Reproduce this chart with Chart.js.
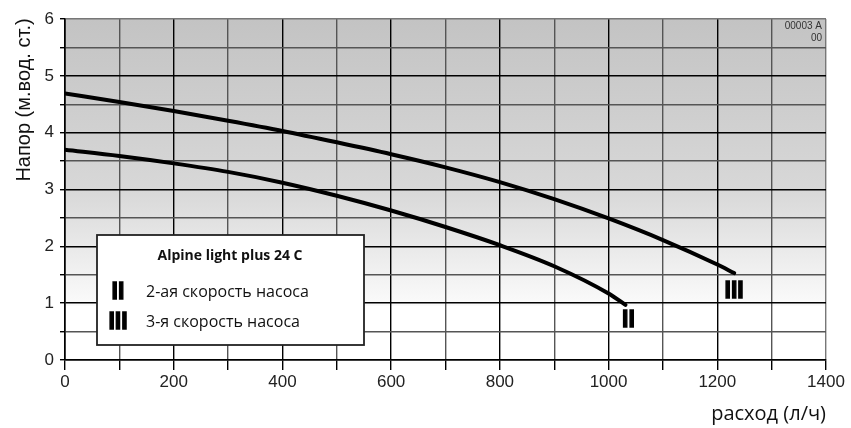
<!DOCTYPE html>
<html>
<head>
<meta charset="utf-8">
<script src="https://cdn.jsdelivr.net/npm/chart.js@4/dist/chart.umd.min.js"></script>
<style>
  body { margin: 0; background: #fff; }
  #wrap { width: 851px; height: 428px; }
</style>
</head>
<body>
<div id="wrap"><canvas id="pumpChart" width="851" height="428"></canvas></div>
<script>
// Pump head curves - Alpine light plus 24 C
const flowSpeed2 = [0, 100, 200, 300, 400, 500, 600, 700, 800, 900, 1000, 1031];
const headSpeed2 = [3.70, 3.59, 3.46, 3.31, 3.12, 2.89, 2.63, 2.34, 2.02, 1.65, 1.17, 0.97];

const flowSpeed3 = [0, 100, 200, 300, 400, 500, 600, 700, 800, 900, 1000, 1100, 1200, 1231];
const headSpeed3 = [4.69, 4.54, 4.38, 4.21, 4.03, 3.83, 3.62, 3.39, 3.13, 2.83, 2.49, 2.11, 1.68, 1.53];

const speedMarks = ["II", "III"];
const legendTitle = "Alpine light plus 24 C";
const legendLabels = ["2-ая скорость насоса", "3-я скорость насоса"];
const yTitle = "Напор (м.вод. ст.)";
const xTitle = "расход (л/ч)";
const docCode = ["00003 A", "00"];

const chartElement = document.getElementById("pumpChart");

function toPoints(xs, ys) {
  return xs.map((x, i) => ({ x: x, y: ys[i] }));
}

function gridColor(value, major, last) {
  if (value === last) return "#777";
  return value % major === 0 ? "#000" : "#555";
}

// gray to white background inside the plot
const backgroundPlugin = {
  id: "background",
  beforeDraw(chart) {
    const { ctx, chartArea } = chart;
    const yScale = chart.scales.y;
    const fadeEnd = yScale.getPixelForValue(0.95);
    const grad = ctx.createLinearGradient(0, chartArea.top, 0, fadeEnd);
    grad.addColorStop(0, "#c3c3c3");
    grad.addColorStop(0.6, "#d8d8d8");
    grad.addColorStop(1, "#fbfbfb");
    ctx.save();
    ctx.fillStyle = "#fff";
    ctx.fillRect(chartArea.left, chartArea.top, chartArea.width, chartArea.height);
    ctx.fillStyle = grad;
    ctx.fillRect(chartArea.left, chartArea.top, chartArea.width, fadeEnd - chartArea.top);
    ctx.restore();
  },
};

function drawMark(ctx, text, cx, top) {
  ctx.save();
  ctx.font = "bold 23px 'Liberation Sans'";
  ctx.textAlign = "center";
  ctx.textBaseline = "top";
  ctx.fillStyle = "#000";
  ctx.strokeStyle = "#000";
  ctx.lineWidth = 1.3;
  ctx.fillText(text, cx, top);
  ctx.strokeText(text, cx, top);
  ctx.restore();
}

const annotationPlugin = {
  id: "annotations",
  afterDraw(chart) {
    const { ctx } = chart;
    const x = chart.scales.x;
    const y = chart.scales.y;

    // marks at the ends of the curves
    const end2 = flowSpeed2.length - 1;
    const end3 = flowSpeed3.length - 1;
    drawMark(ctx, speedMarks[0], x.getPixelForValue(flowSpeed2[end2]) + 3, y.getPixelForValue(headSpeed2[end2]) + 4);
    drawMark(ctx, speedMarks[1], x.getPixelForValue(flowSpeed3[end3]), y.getPixelForValue(headSpeed3[end3]) + 7);

    // legend box
    ctx.save();
    ctx.fillStyle = "#fff";
    ctx.strokeStyle = "#222";
    ctx.lineWidth = 1.8;
    ctx.fillRect(97, 235, 267, 110);
    ctx.strokeRect(97, 235, 267, 110);
    ctx.fillStyle = "#111";
    ctx.font = "bold 14px 'Open Sans'";
    ctx.textAlign = "center";
    ctx.textBaseline = "middle";
    ctx.fillText(legendTitle, 230, 256);
    ctx.font = "16px 'Open Sans'";
    ctx.textAlign = "left";
    ctx.fillText(legendLabels[0], 146, 292);
    ctx.fillText(legendLabels[1], 146, 322);
    ctx.restore();
    drawMark(ctx, speedMarks[0], 118, 281);
    drawMark(ctx, speedMarks[1], 118, 311);

    // rotated y title
    ctx.save();
    ctx.translate(30, 100);
    ctx.rotate(-Math.PI / 2);
    ctx.font = "20px 'Liberation Sans'";
    ctx.fillStyle = "#111";
    ctx.textAlign = "center";
    ctx.textBaseline = "alphabetic";
    ctx.fillText(yTitle, 0, 0);
    ctx.restore();

    // document code, top right
    ctx.save();
    ctx.font = "10px 'Liberation Sans'";
    ctx.fillStyle = "#333";
    ctx.textAlign = "right";
    ctx.textBaseline = "middle";
    ctx.fillText(docCode[0], 822, 26);
    ctx.fillText(docCode[1], 822, 38);
    ctx.restore();
  },
};

const chart = new Chart(chartElement, {
  type: "scatter",
  data: {
    datasets: [
      {
        label: legendLabels[0],
        data: toPoints(flowSpeed2, headSpeed2),
        showLine: true,
        borderColor: "#000",
        borderWidth: 4,
        borderCapStyle: "round",
        pointRadius: 0,
        cubicInterpolationMode: "monotone",
      },
      {
        label: legendLabels[1],
        data: toPoints(flowSpeed3, headSpeed3),
        showLine: true,
        borderColor: "#000",
        borderWidth: 4,
        borderCapStyle: "round",
        pointRadius: 0,
        cubicInterpolationMode: "monotone",
      },
    ],
  },
  options: {
    responsive: false,
    animation: false,
    devicePixelRatio: 1,
    layout: { padding: { top: 19, right: 25, left: 0, bottom: 0 } },
    plugins: {
      legend: { display: false },
      tooltip: { enabled: false },
    },
    scales: {
      x: {
        type: "linear",
        min: 0,
        max: 1400,
        afterFit: (scale) => { scale.height = 68; },
        ticks: {
          stepSize: 100,
          autoSkip: false,
          maxRotation: 0,
          padding: 2,
          color: "#222",
          font: { family: "'Liberation Sans'", size: 17 },
          callback: (value) => (value % 200 === 0 ? value : ""),
        },
        grid: {
          color: (ctx) => gridColor(ctx.tick.value, 200, 1400),
          tickColor: "#000",
          lineWidth: 1.4,
          tickLength: 10,
        },
        border: { color: "#000", width: 1.6 },
        title: {
          display: true,
          text: xTitle,
          align: "end",
          color: "#111",
          font: { family: "'Open Sans'", size: 20 },
          padding: { top: 0, bottom: 2 },
        },
      },
      y: {
        type: "linear",
        min: 0,
        max: 6,
        afterFit: (scale) => { scale.width = 65; },
        ticks: {
          stepSize: 0.5,
          autoSkip: false,
          padding: 6,
          color: "#222",
          font: { family: "'Liberation Sans'", size: 17 },
          callback: (value) => (Number.isInteger(value) ? value : ""),
        },
        grid: {
          color: (ctx) => gridColor(ctx.tick.value, 1, 6),
          tickColor: "#000",
          lineWidth: 1.4,
          tickLength: 5,
        },
        border: { color: "#000", width: 1.6 },
      },
    },
  },
  plugins: [backgroundPlugin, annotationPlugin],
});
</script>
</body>
</html>
